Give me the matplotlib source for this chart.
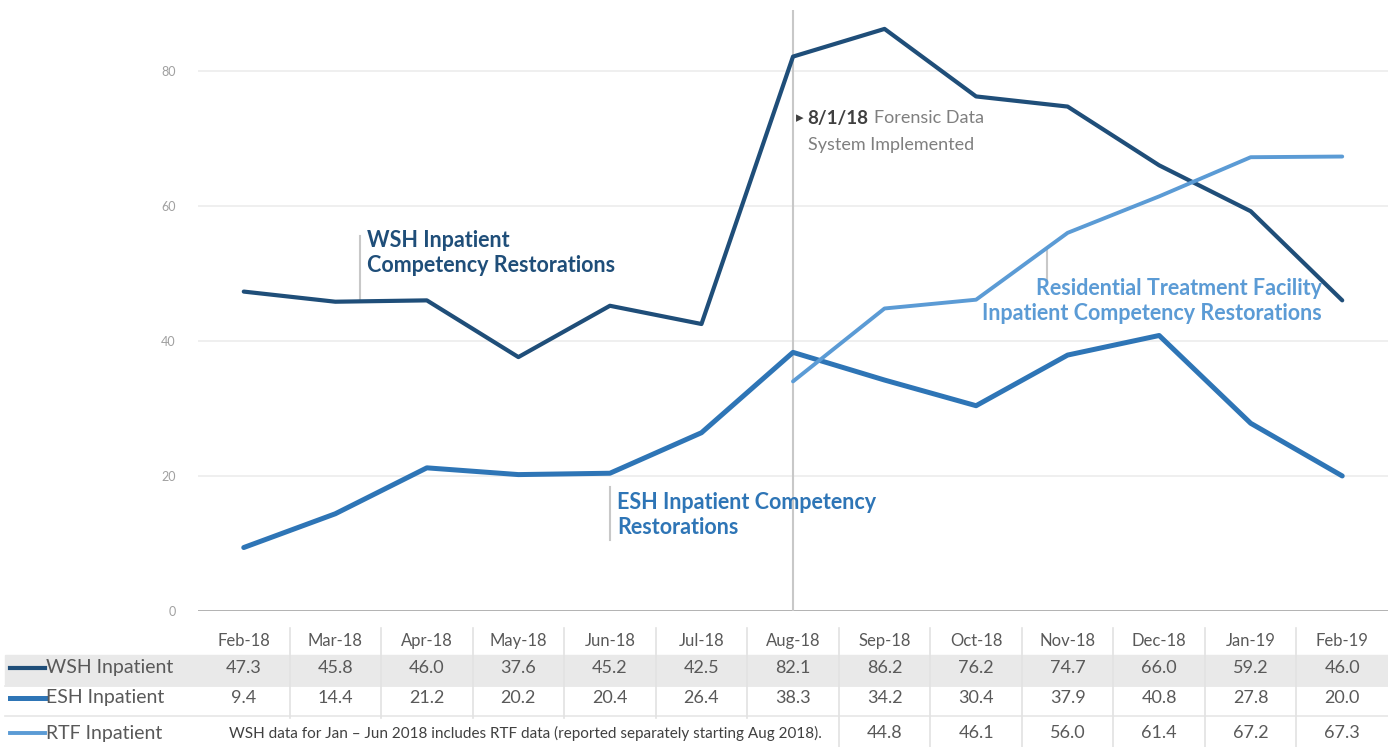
import matplotlib
matplotlib.use("Agg")
import matplotlib.pyplot as plt
import numpy as np

months = ["Feb-18", "Mar-18", "Apr-18", "May-18", "Jun-18", "Jul-18", "Aug-18",
          "Sep-18", "Oct-18", "Nov-18", "Dec-18", "Jan-19", "Feb-19"]
wsh = [47.3, 45.8, 46.0, 37.6, 45.2, 42.5, 82.1, 86.2, 76.2, 74.7, 66.0, 59.2, 46.0]
esh = [9.4, 14.4, 21.2, 20.2, 20.4, 26.4, 38.3, 34.2, 30.4, 37.9, 40.8, 27.8, 20.0]
rtf = [None, None, None, None, None, None, 34.0, 44.8, 46.1, 56.0, 61.4, 67.2, 67.3]
series_names = ["WSH Inpatient", "ESH Inpatient", "RTF Inpatient"]
yticks = [0, 20, 40, 60, 80]
note = "WSH data for Jan \u2013 Jun 2018 includes RTF data (reported separately starting Aug 2018)."
note_cols = 7  # RTF table row: first 7 month cells merged into the note

C_WSH = "#1F4E79"
C_ESH = "#2E75B6"
C_RTF = "#5B9BD5"
GRAY = "#595959"

plt.rcParams['font.family'] = ['Lato', 'DejaVu Sans']

W, H = 1388, 747
fig = plt.figure(figsize=(W / 100, H / 100), dpi=100)
ax = fig.add_axes([198 / W, 1 - 611 / H, 1 - 198 / W, (611 - 10) / H])
x = np.arange(len(months))
ax.set_xlim(-0.5, len(months) - 0.5)
ax.set_ylim(0, 89)

for s in ax.spines.values():
    s.set_visible(False)
ax.set_xticks([])
ax.set_yticks(yticks)
ax.set_yticklabels([str(v) for v in yticks], color="#a0a0a0", fontsize=9)
ax.tick_params(axis='y', length=0, pad=16)
for v in yticks:
    ax.axhline(v, color="#a6a6a6" if v == 0 else "#ececec", lw=1.2, zorder=0)

# event line
ax.axvline(6, color="#c8c8c8", lw=1.5, zorder=1)

ax.plot(x, wsh, color=C_WSH, lw=3.0, solid_joinstyle='round', solid_capstyle='round', zorder=3)
ax.plot(x, esh, color=C_ESH, lw=3.6, solid_joinstyle='round', solid_capstyle='round', zorder=3)
rx = [i for i, v in enumerate(rtf) if v is not None]
ry = [v for v in rtf if v is not None]
ax.plot(rx, ry, color=C_RTF, lw=2.8, solid_joinstyle='round', solid_capstyle='round', zorder=3)

# annotations
FS_ANN = 15.5
ax.plot([1.27, 1.27], [46.0, 55.5], color="#c8c8c8", lw=1.5, zorder=2)
ax.text(1.35, 53.0, "WSH Inpatient\nCompetency Restorations", color=C_WSH, fontsize=FS_ANN,
        fontweight='bold', ha='left', va='center', linespacing=1.25)
ax.plot([4.0, 4.0], [10.5, 18.3], color="#c8c8c8", lw=1.5, zorder=2)
ax.text(4.08, 14.2, "ESH Inpatient Competency\nRestorations", color=C_ESH, fontsize=FS_ANN,
        fontweight='bold', ha='left', va='center', linespacing=1.25)
ax.plot([8.77, 8.77], [48.8, 53.5], color="#c8c8c8", lw=1.5, zorder=2)
ax.text(11.78, 45.9, "Residential Treatment Facility\nInpatient Competency Restorations",
        color=C_RTF, fontsize=FS_ANN, fontweight='bold', ha='right', va='center',
        multialignment='right', linespacing=1.25)

ax.text(6.03, 73.0, "\u25B8", color="#404040", fontsize=11, ha='left', va='center',
        family=['DejaVu Sans'])
t1 = ax.text(6.16, 73.0, "8/1/18", color="#404040", fontsize=13.5, fontweight='bold',
             ha='left', va='center')
ax.annotate("Forensic Data", xy=(1, 0.5), xycoords=t1, xytext=(4, 0),
            textcoords='offset points', va='center', ha='left', color="#7f7f7f", fontsize=13)
ax.text(6.16, 69.0, "System Implemented", color="#7f7f7f", fontsize=13, ha='left', va='center')

# data table
tax = fig.add_axes([198 / W, 0, 1 - 198 / W, 127 / H])
tax.set_zorder(3)
tax.patch.set_visible(False)
tax.set_xlim(-0.5, len(months) - 0.5)
tax.set_ylim(127, 0)
tax.axis('off')
fig.patches.append(plt.Rectangle((5 / W, 1 - 684 / H), 1, 29 / H, transform=fig.transFigure,
                                 color="#e9e9e9", zorder=0))
for yy in (686, 716):
    fig.add_artist(plt.Line2D([5 / W, 1], [1 - yy / H, 1 - yy / H], transform=fig.transFigure,
                              color="#e6e6e6", lw=1.2))
for k in range(1, len(months)):
    bottom = 127 if k >= note_cols else 98
    tax.plot([k - 0.5, k - 0.5], [8, bottom], color="#e2e2e2", lw=1.2, clip_on=False)

row_y = [48, 78, 113]
for i, m in enumerate(months):
    tax.text(i, 21, m, ha='center', va='center', fontsize=12, color=GRAY)
for r, (vals, yy) in enumerate(zip([wsh, esh, rtf], row_y)):
    for i, v in enumerate(vals):
        if v is None or (r == 2 and i < note_cols):
            continue
        tax.text(i, yy, f"{v:.1f}", ha='center', va='center', fontsize=13, color=GRAY)
tax.text((note_cols - 1) / 2 + 0.08, row_y[2], note, ha='center', va='center', fontsize=11,
         color="#404040")

for name, col, yy, lw in zip(series_names, [C_WSH, C_ESH, C_RTF], row_y, [3.0, 3.6, 2.8]):
    fy = 1 - (620 + yy) / H
    fig.add_artist(plt.Line2D([10 / W, 45 / W], [fy, fy], transform=fig.transFigure, color=col, lw=lw))
    fig.text(46 / W, fy, name, ha='left', va='center', fontsize=14, color=GRAY)

fig.savefig("out.png", dpi=100)
